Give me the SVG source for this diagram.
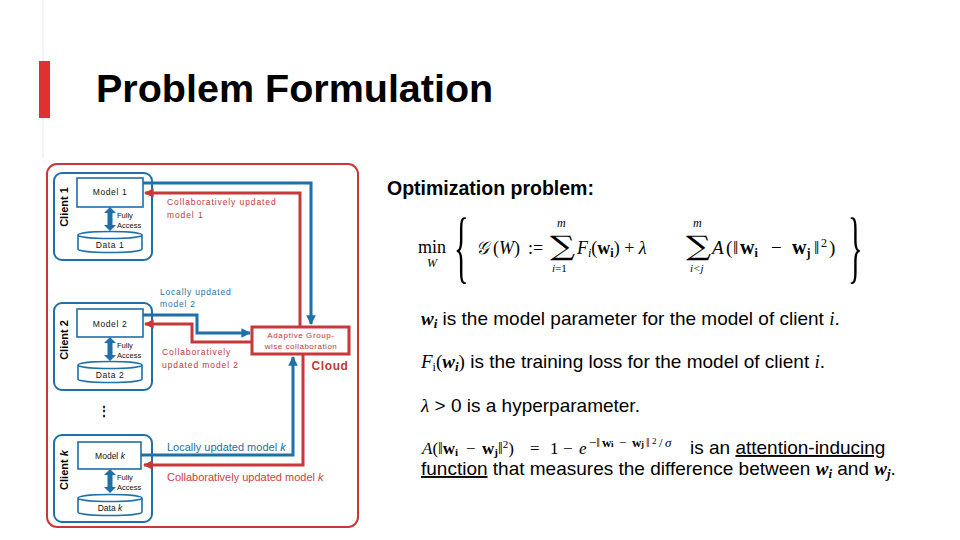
<svg xmlns="http://www.w3.org/2000/svg" width="960" height="540" viewBox="0 0 960 540">
<defs>
<style>
.title{font-family:"Liberation Sans",Arial,sans-serif;font-weight:bold;font-size:39.5px;fill:#000}
.h2{font-family:"Liberation Sans",Arial,sans-serif;font-weight:bold;font-size:19.5px;fill:#000}
.lbl{font-family:"Liberation Sans",Arial,sans-serif;font-size:8.5px;fill:#111;letter-spacing:0.6px}
.sm{font-family:"Liberation Sans",Arial,sans-serif;font-size:7.5px;fill:#111}
.cl{font-family:"Liberation Sans",Arial,sans-serif;font-size:11px;font-weight:bold;fill:#000}
.rt{font-family:"Liberation Sans",Arial,sans-serif;font-size:8.5px;fill:#c0393b;letter-spacing:0.9px}
.bt{font-family:"Liberation Sans",Arial,sans-serif;font-size:8.5px;fill:#2a6f9f;letter-spacing:0.8px}
.rk{font-family:"Liberation Sans",Arial,sans-serif;font-size:11px;fill:#d04040}
.bk{font-family:"Liberation Sans",Arial,sans-serif;font-size:11px;fill:#2a6f9f}
.cloud{font-family:"Liberation Sans",Arial,sans-serif;font-size:12px;font-weight:bold;fill:#c0393b;letter-spacing:0.6px}
.box{fill:#fff;stroke:#1f6fa8;stroke-width:1.6}
.client{fill:none;stroke:#1f6fa8;stroke-width:2}
.cr{fill:none;stroke:#c8373a;stroke-width:3}
.cb{fill:none;stroke:#1f6fa8;stroke-width:3}
.m{font-family:"Liberation Serif","DejaVu Serif",serif;fill:#000}
.t{font-family:"Liberation Sans",Arial,sans-serif;font-size:19px;fill:#000}
</style>
<marker id="ar" viewBox="0 0 10 10" refX="9" refY="5" markerWidth="3.2" markerHeight="3.2" orient="auto"><path d="M0,0 L10,5 L0,10 z" fill="#c8373a"/></marker>
<marker id="ab" viewBox="0 0 10 10" refX="9" refY="5" markerWidth="3.2" markerHeight="3.2" orient="auto"><path d="M0,0 L10,5 L0,10 z" fill="#1f6fa8"/></marker>
<symbol id="dbl" viewBox="0 0 12 24" overflow="visible"><polygon points="6,0 12,6 8.5,6 8.5,18 12,18 6,24 0,18 3.5,18 3.5,6 0,6" fill="#1f6fa8"/></symbol>
</defs>
<rect width="960" height="540" fill="#fff"/>
<line x1="43" y1="0" x2="43" y2="158" stroke="#e8e8e8" stroke-width="1"/>
<rect x="39" y="61" width="11" height="57" fill="#e03030"/>
<text class="title" x="96" y="102">Problem Formulation</text>

<!-- outer cloud frame -->
<rect x="47" y="164" width="311" height="363" rx="10" fill="none" stroke="#c8373a" stroke-width="2"/>

<g id="client1">
<rect class="client" x="54" y="173" width="98" height="87" rx="8"/>
<text class="cl" transform="translate(68,207) rotate(-90)" text-anchor="middle">Client 1</text>
<rect class="box" x="77" y="178" width="66" height="29"/>
<text class="lbl" x="110" y="195" text-anchor="middle">Model 1</text>
<use href="#dbl" x="104" y="207" width="12" height="24"/>
<text class="sm" x="117" y="218">Fully</text>
<text class="sm" x="117" y="228">Access</text>
<path class="box" d="M78,235 v14 a32,3.5 0 0 0 64,0 v-14 a32,3.5 0 0 0 -64,0 a32,3.5 0 0 0 64,0"/>
<text class="lbl" x="110" y="248" text-anchor="middle">Data 1</text>
</g>

<g id="client2">
<rect class="client" x="54" y="303" width="98" height="87" rx="8"/>
<text class="cl" transform="translate(68,340) rotate(-90)" text-anchor="middle">Client 2</text>
<rect class="box" x="77" y="309" width="66" height="28"/>
<text class="lbl" x="110" y="327" text-anchor="middle">Model 2</text>
<use href="#dbl" x="104" y="337" width="12" height="24"/>
<text class="sm" x="117" y="348">Fully</text>
<text class="sm" x="117" y="358">Access</text>
<path class="box" d="M78,365 v14 a32,3.5 0 0 0 64,0 v-14 a32,3.5 0 0 0 -64,0 a32,3.5 0 0 0 64,0"/>
<text class="lbl" x="110" y="378" text-anchor="middle">Data 2</text>
</g>

<g id="dots"><text x="104" y="415" font-family="Liberation Sans,sans-serif" font-size="12" font-weight="bold" text-anchor="middle">⋮</text></g>

<g id="clientk">
<rect class="client" x="54" y="435" width="98" height="87" rx="8"/>
<text class="cl" transform="translate(68,470) rotate(-90)" text-anchor="middle">Client <tspan font-style="italic">k</tspan></text>
<rect class="box" x="78" y="442" width="63" height="27"/>
<text class="lbl" x="110" y="459" text-anchor="middle" style="letter-spacing:0">Model <tspan font-style="italic">k</tspan></text>
<use href="#dbl" x="104" y="469" width="12" height="24"/>
<text class="sm" x="117" y="480">Fully</text>
<text class="sm" x="117" y="490">Access</text>
<path class="box" d="M78,498 v14 a32,3.5 0 0 0 64,0 v-14 a32,3.5 0 0 0 -64,0 a32,3.5 0 0 0 64,0"/>
<text class="lbl" x="110" y="511" text-anchor="middle" style="letter-spacing:0">Data <tspan font-style="italic">k</tspan></text>
</g>

<g id="cloud">
<rect x="252" y="327" width="97" height="27" fill="#fff" stroke="#c8373a" stroke-width="3"/>
<text class="rt" x="301" y="338" text-anchor="middle" style="font-size:8px;letter-spacing:0.6px">Adaptive Group-</text>
<text class="rt" x="301" y="349" text-anchor="middle" style="font-size:8px;letter-spacing:0.5px">wise collaboration</text>
<text class="cloud" x="330" y="370" text-anchor="middle">Cloud</text>
</g>

<g id="connectors">
<polyline class="cb" points="143,183 311,183 311,324" marker-end="url(#ab)"/>
<polyline class="cr" points="300,327 300,193 145,193" marker-end="url(#ar)"/>
<polyline class="cb" points="143,315 197,315 197,333 250,333" marker-end="url(#ab)"/>
<polyline class="cr" points="252,342 192,342 192,324 145,324" marker-end="url(#ar)"/>
<polyline class="cb" points="141,455 293,455 293,357" marker-end="url(#ab)"/>
<polyline class="cr" points="303,354 303,465 144,465" marker-end="url(#ar)"/>
</g>

<g id="labels">
<text class="rt" x="167" y="205">Collaboratively updated</text>
<text class="rt" x="167" y="218">model 1</text>
<text class="bt" x="160" y="295">Locally updated</text>
<text class="bt" x="160" y="307">model 2</text>
<text class="rt" x="162" y="355">Collaboratively</text>
<text class="rt" x="162" y="368">updated model 2</text>
<text class="bk" x="167" y="451">Locally updated model <tspan font-style="italic">k</tspan></text>
<text class="rk" x="167" y="481">Collaboratively updated model <tspan font-style="italic">k</tspan></text>
</g>

<!-- right side -->
<text class="h2" x="387" y="195">Optimization problem:</text>

<g id="formula">
<text class="m" x="418" y="253" style="font-size:18px">min</text>
<text class="m" x="427" y="267" style="font-size:12px;font-style:italic">W</text>
<text class="m" transform="translate(454,273) scale(0.38,1)" style="font-size:80px">{</text>
<text class="m" y="254" style="font-size:18px"><tspan x="476" font-style="italic">𝒢</tspan><tspan x="493">(</tspan><tspan font-style="italic">W</tspan><tspan>)</tspan><tspan x="528">:=</tspan></text>
<text class="m" transform="translate(550,255) scale(1.3,1)" style="font-size:27px;font-family:'DejaVu Serif',serif">∑</text>
<text class="m" x="557" y="227" style="font-size:12px;font-style:italic">m</text>
<text class="m" x="552" y="272" style="font-size:11px"><tspan font-style="italic">i</tspan>=1</text>
<text class="m" x="577" y="254" style="font-size:18px"><tspan font-style="italic">F</tspan><tspan font-style="italic" font-size="12" dy="3">i</tspan><tspan dy="-3">(</tspan><tspan font-weight="bold">w</tspan><tspan font-weight="bold" font-size="12" dy="3">i</tspan><tspan dy="-3">) + </tspan><tspan font-style="italic">λ</tspan></text>
<text class="m" transform="translate(686,255) scale(1.3,1)" style="font-size:27px;font-family:'DejaVu Serif',serif">∑</text>
<text class="m" x="693" y="227" style="font-size:12px;font-style:italic">m</text>
<text class="m" x="690" y="272" style="font-size:11px;font-style:italic">i&lt;j</text>
<text class="m" y="254" style="font-size:19px"><tspan x="712" font-style="italic">A</tspan><tspan x="726">(</tspan><tspan x="733">‖</tspan><tspan x="740" font-weight="bold" font-size="20">w</tspan><tspan font-weight="bold" font-size="12" dy="3">i</tspan><tspan x="771" dy="-3">−</tspan><tspan x="792" font-weight="bold" font-size="20">w</tspan><tspan font-weight="bold" font-size="12" dy="3">j</tspan><tspan x="814" dy="-3">‖</tspan><tspan x="821" font-size="12" dy="-7">2</tspan><tspan x="829" dy="7">)</tspan></text>
<text class="m" transform="translate(848,273) scale(0.38,1)" style="font-size:80px">}</text>
</g>

<g id="bullets">
<text class="t" x="421" y="325"><tspan font-family="Liberation Serif,serif" font-weight="bold" font-style="italic">w</tspan><tspan font-family="Liberation Serif,serif" font-weight="bold" font-style="italic" font-size="13" dy="3">i</tspan><tspan dy="-3"> is the model parameter for the model of client </tspan><tspan font-family="Liberation Serif,serif" font-style="italic">i</tspan>.</text>
<text class="t" x="421" y="368"><tspan font-family="Liberation Serif,serif" font-style="italic">F</tspan><tspan font-family="Liberation Serif,serif" font-size="12" dy="3">i</tspan><tspan font-family="Liberation Serif,serif" dy="-3">(</tspan><tspan font-family="Liberation Serif,serif" font-weight="bold" font-style="italic">w</tspan><tspan font-family="Liberation Serif,serif" font-weight="bold" font-style="italic" font-size="13" dy="3">i</tspan><tspan font-family="Liberation Serif,serif" dy="-3">)</tspan> is the training loss for the model of client <tspan font-family="Liberation Serif,serif" font-style="italic">i</tspan>.</text>
<text class="t" x="421" y="412"><tspan font-family="Liberation Serif,serif" font-style="italic">λ</tspan> &gt; 0 is a hyperparameter.</text>
<text class="m" y="454" style="font-size:17px"><tspan x="422" font-style="italic">A</tspan><tspan>(‖</tspan><tspan font-weight="bold">w</tspan><tspan font-weight="bold" font-size="11" dy="2">i</tspan><tspan x="466" dy="-2">−</tspan><tspan x="482" font-weight="bold">w</tspan><tspan font-weight="bold" font-size="11" dy="2">j</tspan><tspan dy="-2">‖</tspan><tspan font-size="11" dy="-6">2</tspan><tspan dy="6">)</tspan><tspan x="530">=</tspan><tspan x="550">1</tspan><tspan x="563">−</tspan><tspan x="579" font-style="italic">e</tspan><tspan x="589" dy="-7" font-size="13">−‖</tspan><tspan x="602" font-size="13" font-weight="bold">w</tspan><tspan x="611" font-size="9" font-weight="bold">i</tspan><tspan x="619" font-size="13">−</tspan><tspan x="632" font-size="13" font-weight="bold">w</tspan><tspan x="641" font-size="9" font-weight="bold">j</tspan><tspan x="646" font-size="13">‖</tspan><tspan x="652" font-size="9" dy="-3">2</tspan><tspan x="659" font-size="13" dy="3">/</tspan><tspan x="665" font-size="13" font-style="italic">σ</tspan></text>
<text class="t" x="690" y="454">is an <tspan text-decoration="underline">attention-inducing</tspan></text>
<text class="t" x="421" y="475"><tspan text-decoration="underline">function</tspan> that measures the difference between <tspan font-family="Liberation Serif,serif" font-weight="bold" font-style="italic">w</tspan><tspan font-family="Liberation Serif,serif" font-weight="bold" font-style="italic" font-size="13" dy="3">i</tspan><tspan dy="-3"> and </tspan><tspan font-family="Liberation Serif,serif" font-weight="bold" font-style="italic">w</tspan><tspan font-family="Liberation Serif,serif" font-weight="bold" font-style="italic" font-size="13" dy="3">j</tspan><tspan dy="-3">.</tspan></text>
</g>
</svg>
